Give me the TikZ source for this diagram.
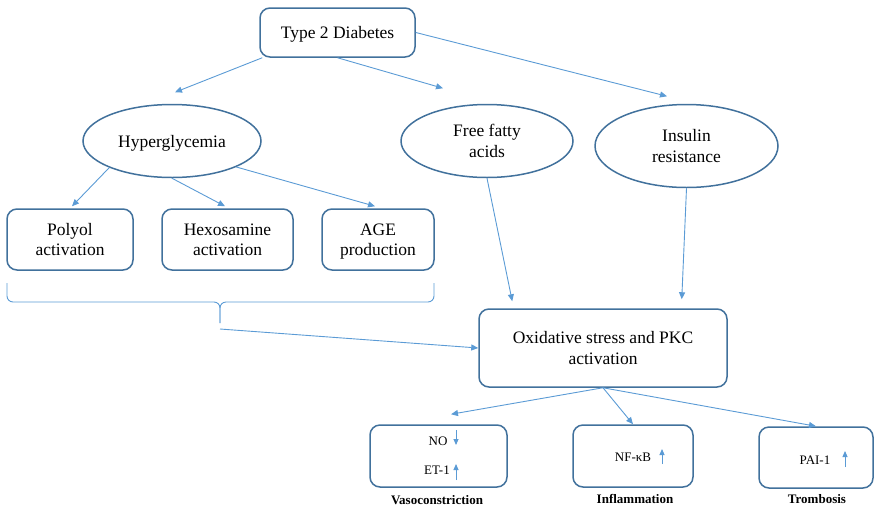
\documentclass[tikz,border=0pt]{standalone}
\usepackage{fontspec}
\setmainfont{Liberation Serif}
\usetikzlibrary{shapes.geometric,arrows.meta}
\definecolor{boxline}{HTML}{41719C}
\definecolor{arrowline}{HTML}{5B9BD5}
\begin{document}
\begin{tikzpicture}[x=1pt,y=-1pt,
  box/.style={draw=boxline,line width=1.5pt,rounded corners=10pt,fill=white,align=center,inner sep=0pt,text depth=0pt,font=\fontsize{17.5}{20.5}\selectfont},
  oval/.style={draw=boxline,line width=1.5pt,ellipse,fill=white,align=center,inner sep=0pt,text depth=0pt,font=\fontsize{17.5}{20.5}\selectfont},
  conn/.style={draw=arrowline,line width=0.9pt,-{Triangle[length=7pt,width=6pt]}},
  bracket/.style={draw=arrowline,line width=0.9pt,rounded corners=6pt},
  updown/.style={draw=arrowline,line width=0.9pt,-{Triangle[length=6pt,width=5pt]}},
  small/.style={font=\fontsize{13}{15}\selectfont},
  caption/.style={font=\fontsize{13}{15}\selectfont\bfseries}]
\useasboundingbox (0,0) rectangle (874,509);
% top and second row
\node[box,minimum width=155pt,minimum height=49pt] (t2d) at (337.5,32.5) {Type 2 Diabetes};
\node[oval,minimum width=178pt,minimum height=73pt] (hyp) at (172,141) {Hyperglycemia};
\node[oval,minimum width=172pt,minimum height=73pt] (ffa) at (487,141) {Free fatty\\acids};
\node[oval,minimum width=183pt,minimum height=83pt] (ins) at (686.5,146) {Insulin\\resistance};
% pathways
\node[box,minimum width=126pt,minimum height=61pt] (pol) at (70,239.5) {Polyol\\activation};
\node[box,minimum width=131pt,minimum height=61pt] (hex) at (227.5,239.5) {Hexosamine\\activation};
\node[box,minimum width=112pt,minimum height=61pt] (age) at (378,239.5) {AGE\\production};
\node[box,minimum width=248pt,minimum height=78pt] (ox) at (603,348) {Oxidative stress and PKC\\activation};
% outcomes
\node[box,minimum width=137pt,minimum height=62pt] (vas) at (438.5,456) {};
\node[box,minimum width=120pt,minimum height=62pt] (inf) at (633,456) {};
\node[box,minimum width=114pt,minimum height=61pt] (trb) at (816,457.5) {};
\node[small] (no) at (438,441) {NO};
\node[small] (et) at (437,470) {ET-1};
\node[small] (nfkb) at (633,457) {NF-κB};
\node[small] (pai) at (815,460) {PAI-1};
\node[caption] (lvas) at (437,500) {Vasoconstriction};
\node[caption] (linf) at (635,499) {Inflammation};
\node[caption] (ltrb) at (817,499) {Trombosis};
\draw[updown] (456,430) -- (456,445);
\draw[updown] (456,480) -- (456,464);
\draw[updown] (662,464) -- (662,449);
\draw[updown] (845,467) -- (845,451);
% brace under the three pathways
\draw[bracket] (7,283) |- (220,302) -- (220,323);
\draw[bracket] (434,283) |- (220,302) -- (220,323);
\coordinate (tip) at (220,329);

\path[conn] ([xshift=3pt]t2d.south west) -- ([shift={(3pt,11.5pt)}]hyp.north);
\path[conn] (t2d.south) -- ([shift={(-44pt,15.5pt)}]ffa.north);
\path[conn] (t2d.east) -- ([shift={(-19.5pt,7.5pt)}]ins.north);
\path[conn] (hyp.203) -- ([shift={(2pt,2pt)}]pol.north);
\path[conn] (hyp.south) -- ([shift={(-2.5pt,2pt)}]hex.north);
\path[conn] (hyp.338) -- ([shift={(-3pt,2pt)}]age.north);
\path[conn] (ffa.south) -- ([shift={(34pt,7pt)}]ox.north west);
\path[conn] (ins.south) -- ([shift={(-46pt,9pt)}]ox.north east);
\path[conn] (tip) -- (ox.west);
\path[conn] (ox.south) -- ([shift={(12.5pt,10pt)}]vas.north);
\path[conn] (ox.south) -- (inf.north);
\path[conn] (ox.south) -- (trb.north);
\end{tikzpicture}
\end{document}
